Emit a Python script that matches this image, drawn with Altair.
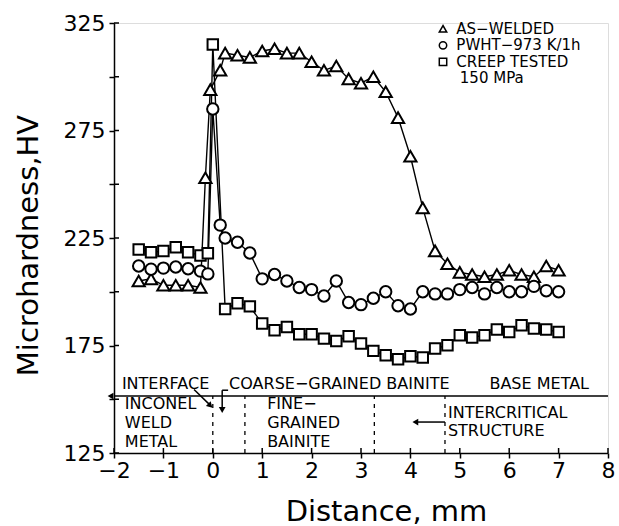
import altair as alt
import pandas as pd

# ---------------- data ----------------
aw_x = [-1.5, -1.25, -1.0, -0.75, -0.5, -0.25, -0.15, -0.05, 0.15, 0.25,
        0.5, 0.75, 1.0, 1.25, 1.5, 1.75, 2.0, 2.25, 2.5, 2.75, 3.0, 3.25, 3.5, 3.75,
        4.0, 4.25, 4.5, 4.75, 5.0, 5.25, 5.5, 5.75, 6.0, 6.25, 6.5, 6.75, 7.0]
aw_hv = [205, 206, 203, 203, 203, 202, 253, 294, 303, 311,
         310, 309, 312, 313, 311, 311, 307, 303, 305, 299, 297, 300, 293, 281,
         263, 239, 219, 213, 209, 208, 207, 208, 210, 208, 207, 212, 210]

pw_x = [-1.5, -1.25, -1.0, -0.75, -0.5, -0.25, -0.1, 0.0, 0.15, 0.25,
        0.5, 0.75, 1.0, 1.25, 1.5, 1.75, 2.0, 2.25, 2.5, 2.75, 3.0, 3.25, 3.5, 3.75,
        4.0, 4.25, 4.5, 4.75, 5.0, 5.25, 5.5, 5.75, 6.0, 6.25, 6.5, 6.75, 7.0]
pw_hv = [212, 210.5, 211, 211.5, 210.7, 209.6, 208.3, 285, 231, 225,
         223, 218, 206, 208, 205, 202, 201, 198, 205, 195, 194, 197, 200, 193.5,
         192, 200, 199, 199, 201, 202, 199, 202, 200, 200, 202.5, 200.5, 200]

ct_x = [-1.5, -1.25, -1.0, -0.75, -0.5, -0.25, -0.1, 0.0, 0.25,
        0.5, 0.75, 1.0, 1.25, 1.5, 1.75, 2.0, 2.25, 2.5, 2.75, 3.0, 3.25, 3.5, 3.75,
        4.0, 4.25, 4.5, 4.75, 5.0, 5.25, 5.5, 5.75, 6.0, 6.25, 6.5, 6.75, 7.0]
ct_hv = [219.7, 218.4, 218.9, 220.7, 218.4, 216.9, 217.9, 315, 192,
         194.7, 193.2, 185.2, 182.1, 183.6, 180.2, 180.2, 178.2, 177.1, 179.3, 175.9, 172.5, 170.5, 168.6,
         170, 169.4, 173.6, 175.1, 179.8, 178.7, 179.8, 182.4, 181.3, 184.4, 182.9, 182.4, 181.3]

series_names = ["AS-WELDED", "PWHT", "CREEP"]
series_shapes = ["triangle-up", "circle", "square"]
series_sizes = [150, 110, 85]

x_ticks = [-2, -1, 0, 1, 2, 3, 4, 5, 6, 7, 8]
y_ticks = [125, 150, 175, 200, 225, 250, 275, 300, 325]

# legend
leg_text = ["AS\u2212WELDED", "PWHT\u2212973  K/1h", "CREEP  TESTED", "150  MPa"]
leg_text_x = [4.93, 4.93, 4.93, 5.0]
leg_text_hv = [322.3, 314.6, 306.9, 299.2]
leg_mark_x = [4.66, 4.66, 4.66]
leg_mark_hv = [322.3, 314.6, 306.9]

# zone annotations
band_hv = 151.5
zone_lines_x = [0.0, 0.65, 3.27, 4.7]
ann_text = ["INTERFACE", "COARSE\u2212GRAINED  BAINITE", "BASE  METAL",
            "INCONEL", "WELD", "METAL",
            "FINE\u2212", "GRAINED", "BAINITE",
            "INTERCRITICAL", "STRUCTURE"]
ann_x = [-1.84, 0.33, 5.6,
         -1.78, -1.78, -1.78,
         1.1, 1.1, 1.1,
         4.76, 4.76]
ann_hv = [157.0, 157.0, 157.0,
          147.8, 139.0, 130.2,
          147.8, 139.0, 130.2,
          143.6, 135.2]

# ---------------- build tables ----------------
df = pd.concat([
    pd.DataFrame({"x": aw_x, "hv": aw_hv, "series": series_names[0]}),
    pd.DataFrame({"x": pw_x, "hv": pw_hv, "series": series_names[1]}),
    pd.DataFrame({"x": ct_x, "hv": ct_hv, "series": series_names[2]}),
], ignore_index=True)

FONT = "DejaVu Sans"
xscale = alt.Scale(domain=[-2, 8], nice=False, zero=False)
yscale = alt.Scale(domain=[125, 325], nice=False, zero=False)

x_axis = alt.Axis(values=x_ticks, title="Distance,  mm", grid=False,
                  tickSize=5, tickWidth=1.5, tickColor="black",
                  domainColor="black", domainWidth=1.5,
                  labelFont=FONT, labelFontSize=22, labelColor="black", labelPadding=2,
                  labelFlush=False,
                  titleFont=FONT, titleFontSize=29, titleFontWeight="normal",
                  titleColor="black", titleX=272, titleY=58,
                  titleBaseline="middle", titleAlign="center")
y_axis = alt.Axis(values=y_ticks, title="Microhardness,HV", grid=False,
                  labelExpr="datum.value % 50 == 25 ? datum.label : ''",
                  tickSize=5, tickWidth=1.5, tickColor="black",
                  domainColor="black", domainWidth=1.5,
                  labelFont=FONT, labelFontSize=22, labelColor="black", labelPadding=4,
                  labelFlush=False,
                  titleFont=FONT, titleFontSize=29, titleFontWeight="normal",
                  titleColor="black", titleAngle=270, titleX=-86, titleY=222,
                  titleBaseline="middle", titleAlign="center")

X = alt.X("x:Q", scale=xscale, axis=x_axis)
Y = alt.Y("hv:Q", scale=yscale, axis=y_axis)

lines = alt.Chart(df).mark_line(color="black", strokeWidth=1.4).encode(
    x=X, y=Y, detail="series:N")

points = alt.Chart(df).mark_point(filled=True, fill="white", stroke="black",
                                  strokeWidth=2, opacity=1).encode(
    x=X, y=Y,
    shape=alt.Shape("series:N", scale=alt.Scale(domain=series_names, range=series_shapes), legend=None),
    size=alt.Size("series:N", scale=alt.Scale(domain=series_names, range=series_sizes), legend=None),
)

# inward tick halves
xt = pd.DataFrame({"x": x_ticks})
yt = pd.DataFrame({"hv": y_ticks})
x_in = alt.Chart(xt).mark_rule(color="black", strokeWidth=1.5).encode(
    x=X, y=alt.value(430), y2=alt.value(425))
y_in = alt.Chart(yt).mark_rule(color="black", strokeWidth=1.5).encode(
    y=Y, x=alt.value(0), x2=alt.value(5))

# legend
leg_pts = alt.Chart(pd.DataFrame({"x": leg_mark_x, "hv": leg_mark_hv, "series": series_names})).mark_point(
    filled=True, fill="white", stroke="black", strokeWidth=1.5, opacity=1, size=55).encode(
    x=X, y=Y,
    shape=alt.Shape("series:N", scale=alt.Scale(domain=series_names, range=series_shapes), legend=None),
)
leg_txt = alt.Chart(pd.DataFrame({"x": leg_text_x, "hv": leg_text_hv, "t": leg_text})).mark_text(
    align="left", baseline="middle", font=FONT, fontSize=15, color="black").encode(
    x=X, y=Y, text="t:N")

# zone band
band = alt.Chart(pd.DataFrame({"hv": [band_hv]})).mark_rule(color="black", strokeWidth=1.5).encode(
    y=Y, x=alt.value(0), x2=alt.value(494))
zones = alt.Chart(pd.DataFrame({"x": zone_lines_x, "hv": [125] * 4, "hv2": [band_hv] * 4})).mark_rule(
    color="black", strokeWidth=1.3, strokeDash=[4, 5]).encode(
    x=X, y=Y, y2="hv2:Q")
ann = alt.Chart(pd.DataFrame({"x": ann_x, "hv": ann_hv, "t": ann_text})).mark_text(
    align="left", baseline="middle", font=FONT, fontSize=16, color="black").encode(
    x=X, y=Y, text="t:N")

# arrows (segments + heads)
seg = pd.DataFrame({
    "x":  [-0.38, 0.19, 0.19, 4.7],
    "x2": [-0.07, 0.19, 0.31, 4.12],
    "hv":  [154.5, 154.2, 154.2, 139.4],
    "hv2": [147.6, 145.5, 154.2, 139.4],
})
arrows = alt.Chart(seg).mark_rule(color="black", strokeWidth=1.5).encode(
    x=X, x2="x2:Q", y=Y, y2="hv2:Q")
heads = pd.DataFrame({
    "x": [-0.05, 0.19, 4.1, -2.07],
    "hv": [147.0, 145.0, 139.4, band_hv],
    "ang": [135, 180, 270, 270],
})
arrow_heads = alt.Chart(heads).mark_point(shape="triangle-up", filled=True, color="black",
                                          opacity=1, size=45).encode(
    x=X, y=Y, angle=alt.Angle("ang:Q", scale=None))

chart = alt.layer(
    lines, points, x_in, y_in, leg_pts, leg_txt, band, zones, ann, arrows, arrow_heads
).properties(
    width=494, height=430,
    autosize=alt.AutoSizeParams(type="none"),
    padding={"left": 114, "top": 23, "right": 11, "bottom": 73},
).configure_view(stroke="black", strokeWidth=1.5).configure(background="white")

chart.save("out.html", embed_options={"renderer": "svg", "actions": False})
